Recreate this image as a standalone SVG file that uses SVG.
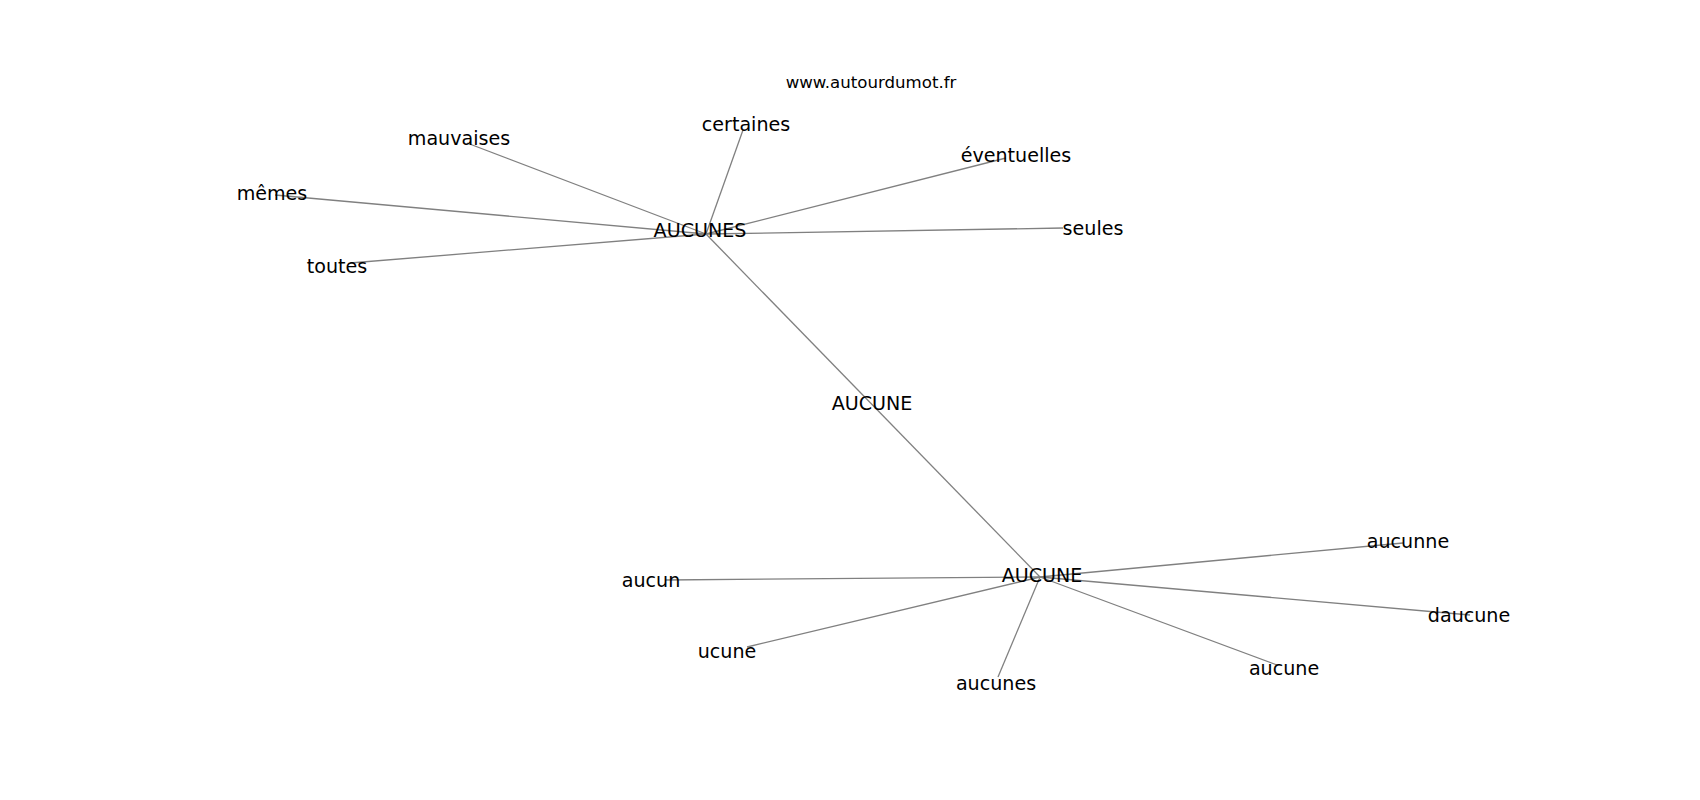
<svg xmlns="http://www.w3.org/2000/svg" width="1700" height="800" viewBox="0 0 1700 800">
<style>
.e{stroke:#808080;stroke-width:1.3;fill:none}
.n{font-family:"DejaVu Sans",sans-serif;font-size:19.1px;fill:#000;text-anchor:middle}
.w{font-family:"DejaVu Sans",sans-serif;font-size:16.6px;fill:#000;text-anchor:middle}
</style>
<rect width="1700" height="800" fill="#fff"/>
<text class="w" x="871" y="88">www.autourdumot.fr</text>
<g id="edges">
<line class="e" x1="706" y1="234" x2="467" y2="143"/>
<line class="e" x1="706" y1="234" x2="743" y2="130"/>
<line class="e" x1="706" y1="234" x2="1006" y2="158"/>
<line class="e" x1="706" y1="234" x2="275" y2="195"/>
<line class="e" x1="706" y1="234" x2="1063" y2="228"/>
<line class="e" x1="706" y1="234" x2="350" y2="263"/>
<line class="e" x1="706" y1="234" x2="1040" y2="577"/>
<line class="e" x1="1040" y1="577" x2="665" y2="580"/>
<line class="e" x1="1040" y1="577" x2="747" y2="647"/>
<line class="e" x1="1040" y1="577" x2="998" y2="677"/>
<line class="e" x1="1040" y1="577" x2="1277" y2="665"/>
<line class="e" x1="1040" y1="577" x2="1470" y2="615"/>
<line class="e" x1="1040" y1="577" x2="1403" y2="543"/>
<text class="n" x="872" y="410">AUCUNE</text>
</g>
<g id="n-AUCUNES"><text class="n" x="700" y="237">AUCUNES</text></g>
<g id="n-mauvaises"><text class="n" x="459" y="145">mauvaises</text></g>
<g id="n-certaines"><text class="n" x="746" y="131">certaines</text></g>
<g id="n-eventuelles"><text class="n" x="1016" y="162">éventuelles</text></g>
<g id="n-memes"><text class="n" x="272" y="200">mêmes</text></g>
<g id="n-seules"><text class="n" x="1093" y="235">seules</text></g>
<g id="n-toutes"><text class="n" x="337" y="273">toutes</text></g>
<g id="n-AUCUNE"><text class="n" x="1042" y="582">AUCUNE</text></g>
<g id="n-aucun"><text class="n" x="651" y="587">aucun</text></g>
<g id="n-ucune"><text class="n" x="727" y="658">ucune</text></g>
<g id="n-aucunes"><text class="n" x="996" y="690">aucunes</text></g>
<g id="n-aucune"><text class="n" x="1284" y="675">aucune</text></g>
<g id="n-daucune"><text class="n" x="1469" y="622">daucune</text></g>
<g id="n-aucunne"><text class="n" x="1408" y="548">aucunne</text></g>
</svg>
